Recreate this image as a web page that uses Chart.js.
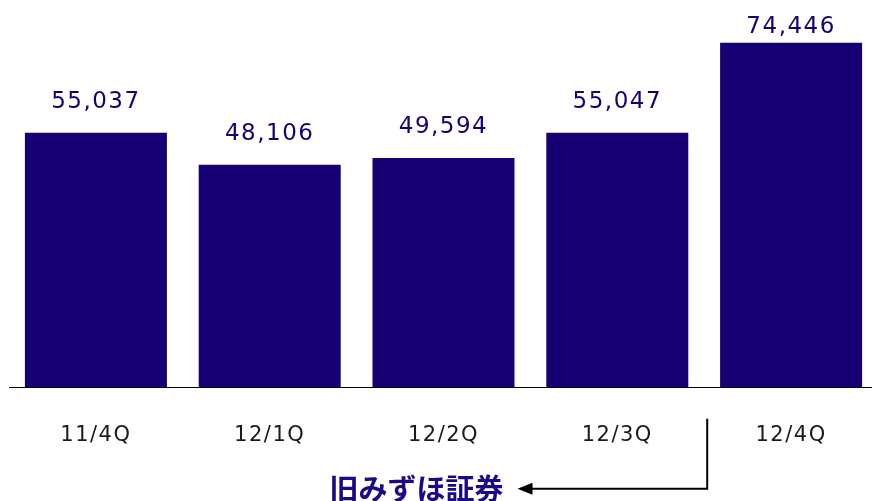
<!DOCTYPE html>
<html>
<head>
<meta charset="utf-8">
<script src="https://cdn.jsdelivr.net/npm/chart.js@4/dist/chart.umd.min.js"></script>
<style>
  html, body { margin: 0; padding: 0; background: #fff; overflow: hidden; }
  #wrap { width: 880px; height: 501px; }
</style>
</head>
<body>
<div id="wrap"><canvas id="c"></canvas></div>
<script>
// Données
const QUARTERS = ['11/4Q', '12/1Q', '12/2Q', '12/3Q', '12/4Q'];
const VALUES   = [55037, 48106, 49594, 55047, 74446];
const NOTE     = '旧みずほ証券';

const NAVY = '#160074';

// Étiquettes de valeur au-dessus des barres + flèche d'annotation
const overlay = {
  id: 'overlay',
  beforeDraw(chart) {
    chart.ctx.letterSpacing = '1.5px';
  },
  afterDatasetsDraw(chart) {
    const ctx = chart.ctx;
    const meta = chart.getDatasetMeta(0);
    ctx.save();
    ctx.letterSpacing = '1.5px';
    ctx.fillStyle = NAVY;
    ctx.font = '23px "DejaVu Sans"';
    ctx.textAlign = 'center';
    ctx.textBaseline = 'alphabetic';
    meta.data.forEach((bar, i) => {
      // la plus haute étiquette est rabattue pour rester dans le cadre
      const y = Math.max(bar.y - 25, 33);
      ctx.fillText(VALUES[i].toLocaleString('en-US'), bar.x, y);
    });
    ctx.restore();
  },
  afterDraw(chart) {
    const ctx = chart.ctx;
    const xs = chart.scales.x;
    const vx = (xs.getPixelForValue(3) + xs.getPixelForValue(4)) / 2 + 3;
    const top = chart.chartArea.bottom + 31;
    const y = chart.chartArea.bottom + 101;
    const tip = xs.getPixelForValue(2) + 74;
    ctx.save();
    ctx.letterSpacing = '0px';
    ctx.strokeStyle = '#000';
    ctx.lineWidth = 2;
    ctx.beginPath();
    ctx.moveTo(vx, top);
    ctx.lineTo(vx, y);
    ctx.lineTo(tip + 12, y);
    ctx.stroke();
    ctx.fillStyle = '#000';
    ctx.beginPath();
    ctx.moveTo(tip, y);
    ctx.lineTo(tip + 15, y - 6);
    ctx.lineTo(tip + 15, y + 6);
    ctx.closePath();
    ctx.fill();
    ctx.fillStyle = '#1a0a8a';
    ctx.font = 'bold 29px "Noto Sans CJK JP"';
    ctx.textAlign = 'right';
    ctx.textBaseline = 'middle';
    ctx.fillText(NOTE, tip - 14, y);
    ctx.restore();
    ctx.letterSpacing = '0px';
  }
};

new Chart(document.getElementById('c'), {
  type: 'bar',
  data: {
    labels: QUARTERS,
    datasets: [{
      data: VALUES,
      backgroundColor: NAVY,
      borderWidth: 0,
      barPercentage: 0.817,
      categoryPercentage: 1.0,
    }],
  },
  options: {
    animation: false,
    responsive: true,
    maintainAspectRatio: false,
    layout: { padding: { left: 9, right: 2, top: 17, bottom: 18 } },
    plugins: { legend: { display: false }, tooltip: { enabled: false } },
    scales: {
      x: {
        grid: { display: false, drawTicks: false },
        border: { display: true, color: '#000', width: 1 },
        ticks: {
          color: '#1a1a1a',
          font: { family: '"DejaVu Sans"', size: 21 },
          padding: 35,
        },
      },
      y: {
        display: false,
        min: 0,
        max: 80000,
      },
    },
  },
  plugins: [overlay],
});
</script>
</body>
</html>
